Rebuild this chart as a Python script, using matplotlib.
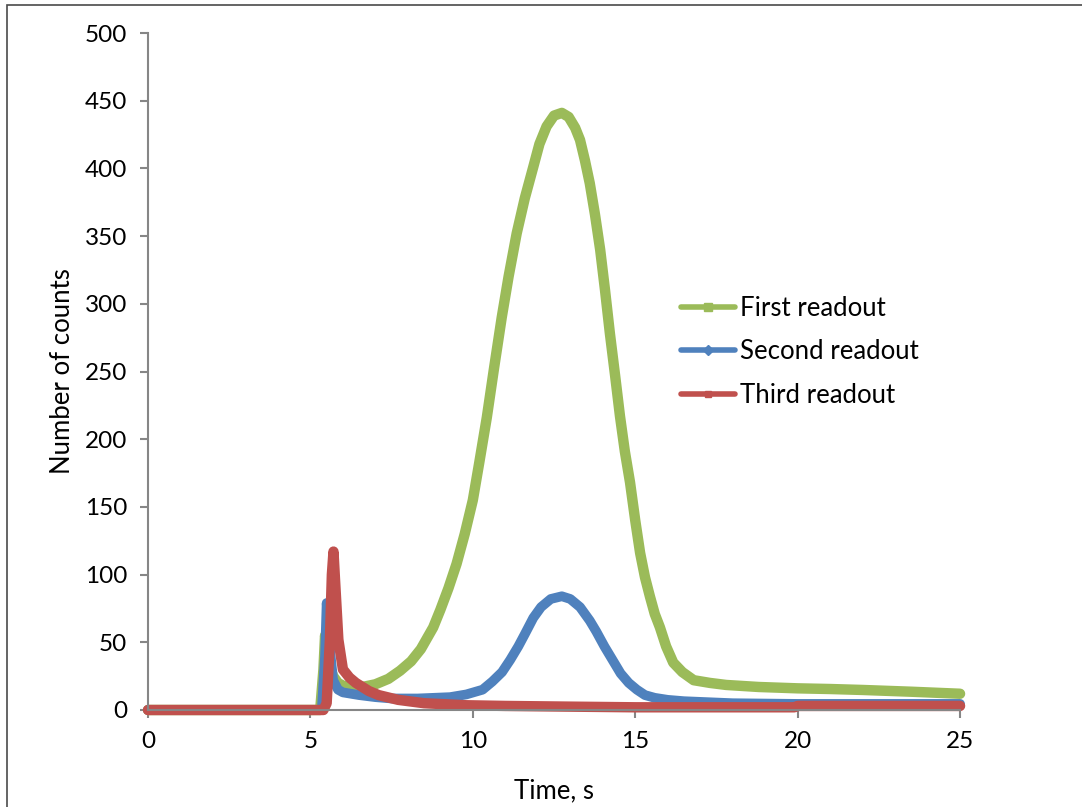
import matplotlib
matplotlib.use('Agg')
import matplotlib.pyplot as plt
from matplotlib.patches import Rectangle

# Readouts (time in s, counts)
first_t = [0, 5.3, 5.4, 5.45, 5.55, 5.7, 5.85, 6.0, 6.3, 6.6, 7.0, 7.4, 7.76, 8.1,
           8.4, 8.78, 9.0, 9.25, 9.5, 9.75, 10.0, 10.2, 10.43, 10.65, 10.89, 11.1,
           11.35, 11.6, 11.86, 12.05, 12.27, 12.5, 12.74, 12.95, 13.15, 13.3, 13.45,
           13.6, 13.76, 13.92, 14.07, 14.22, 14.38, 14.53, 14.68, 14.84, 15.0, 15.15,
           15.3, 15.45, 15.6, 15.76, 15.95, 16.17, 16.45, 16.8, 17.3, 17.8, 18.8,
           20.0, 21.0, 22.0, 23.5, 25.0]
first_counts = [0, 0, 30, 55, 35, 25, 20, 18, 16, 17, 19, 23, 29, 36,
                45, 61, 74, 90, 108, 130, 155, 183, 216, 252, 290, 320,
                352, 378, 401, 418, 431, 439, 441, 438, 430, 421, 406,
                389, 366, 340, 310, 278, 247, 217, 191, 168, 140, 116,
                98, 84, 71, 61, 47, 35, 28, 22, 20, 18.5, 17,
                16, 15.5, 14.8, 13.5, 12]

second_t = [0, 5.35, 5.45, 5.5, 5.6, 5.7, 5.85, 6.0, 6.5, 7.0, 7.5, 8.3, 9.3, 9.8,
            10.3, 10.6, 10.9, 11.15, 11.4, 11.6, 11.86, 12.1, 12.4, 12.74, 13.0,
            13.3, 13.6, 13.8, 14.05, 14.3, 14.55, 14.8, 15.05, 15.3, 15.6, 16.0,
            16.5, 17.0, 18.0, 20.0, 22.0, 25.0]
second_counts = [0, 0, 40, 79, 45, 22, 15, 13, 11, 9.5, 8.5, 8.5, 9.5, 11.5,
                 15, 21, 28, 37, 47, 56, 68, 76, 82, 84, 82,
                 76, 66, 58, 47, 37, 27, 20, 15, 11, 9, 7.5,
                 6.5, 6, 5, 4.5, 4.5, 4.5]

third_t = [0, 5.4, 5.5, 5.6, 5.66, 5.71, 5.76, 5.86, 6.0, 6.2, 6.4, 6.8, 7.1, 7.7,
           8.5, 9.8, 11.0, 12.9, 15.0, 17.0, 19.9, 20.0, 22.0, 25.0]
third_counts = [0, 0, 5, 52, 100, 117, 95, 52, 30, 24, 20, 14, 11, 7.5,
                5, 3.5, 3, 2.5, 2, 2, 2, 3, 3, 3]

x_ticks = [0, 5, 10, 15, 20, 25]
y_ticks = [0, 50, 100, 150, 200, 250, 300, 350, 400, 450, 500]

GREEN = '#9BBB59'
BLUE = '#4F81BD'
RED = '#C0504D'
AXIS_GRAY = '#868686'

plt.rcParams['font.family'] = ['Lato', 'DejaVu Sans']

fig = plt.figure(figsize=(10.82, 8.07), dpi=100)
ax = fig.add_axes([0.1368, 0.1202, 0.7505, 0.8389])

line_kw = dict(solid_capstyle='round', solid_joinstyle='round', clip_on=False)
ax.plot(first_t, first_counts, color=GREEN, linewidth=7.5, marker='s', markersize=0.1,
        label='First readout', **line_kw)
ax.plot(second_t, second_counts, color=BLUE, linewidth=7, marker='D', markersize=0.1,
        label='Second readout', **line_kw)
ax.plot(third_t, third_counts, color=RED, linewidth=7.5, marker='s', markersize=0.1,
        label='Third readout', **line_kw)

ax.set_xlim(0, 25)
ax.set_ylim(0, 500)
ax.set_xticks(x_ticks)
ax.set_yticks(y_ticks)

for side in ['top', 'right']:
    ax.spines[side].set_visible(False)
for side in ['left', 'bottom']:
    ax.spines[side].set_color(AXIS_GRAY)
    ax.spines[side].set_linewidth(1.5)

ax.tick_params(axis='both', direction='out', length=6, width=1.5, color=AXIS_GRAY,
               labelsize=17.5, pad=9)

ax.set_xlabel('Time, s', fontsize=18.5, labelpad=19)
ax.set_ylabel('Number of counts', fontsize=18.5, labelpad=7)

leg = ax.legend(loc='center left', bbox_to_anchor=(0.628, 0.529),
                frameon=False, fontsize=18.5, handlelength=2.1, handletextpad=0.2,
                labelspacing=0.72)
for line, size in zip(leg.get_lines(), [6, 5, 4]):
    line.set_linewidth(4)
    line.set_markersize(size)

# outer chart frame (only top and left visible inside the image)
fig.patches.append(Rectangle((7 / 1082, -0.05), 1.2, 1 - 5 / 807 + 0.05,
                             transform=fig.transFigure, fill=False,
                             edgecolor='#4a4a4a', linewidth=1.2))

fig.savefig('out.png', dpi=100)
